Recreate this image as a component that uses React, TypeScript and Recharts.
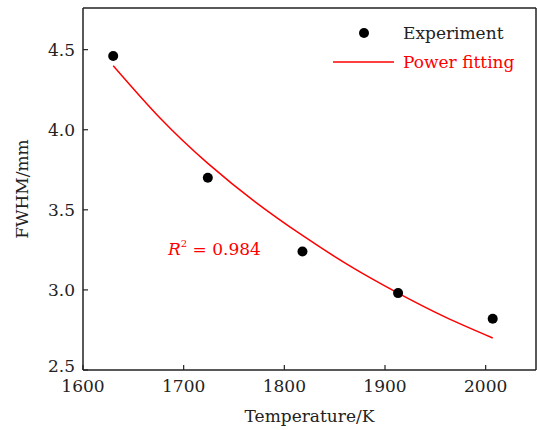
import React from "react"
import { ComposedChart, Scatter, Line, XAxis, YAxis, ReferenceLine } from "recharts"

// measured points
const temperature = [1630, 1724, 1818, 1913, 2007]
const fwhm = [4.46, 3.7, 3.24, 2.98, 2.82]

// power fitting curve
const fitTemperature = [1630, 1677, 1724, 1771, 1818, 1865, 1913, 1960, 2007]
const fitFwhm = [4.4, 4.07, 3.79, 3.55, 3.34, 3.15, 2.98, 2.83, 2.7]

const xTicks = [1600, 1700, 1800, 1900, 2000]
const yTicks = [2.5, 3.0, 3.5, 4.0, 4.5]

const expData = temperature.map((t, i) => ({ x: t, y: fwhm[i] }))
const fitData = fitTemperature.map((t, i) => ({ x: t, y: fitFwhm[i] }))

const font = "'DejaVu Serif', serif"
const fs = 17
const ink = "#222"
const red = "#ff0000"

function YTick(props: any) {
  const { x, y, payload, index } = props
  const ax = x + 8
  // lowest label sits just above the 1600 label, nudge it up a little
  const shift = index === 0 ? -4 : 0
  return (
    <g>
      <line x1={ax} x2={ax + 5} y1={y} y2={y} stroke={ink} strokeWidth={1.2} />
      <text x={x} y={y + shift} textAnchor="end" dominantBaseline="central" fontFamily={font} fontSize={fs} fill={ink}>
        {payload.value.toFixed(1)}
      </text>
    </g>
  )
}

function XTick(props: any) {
  const { x, y, payload } = props
  const ay = y - 9
  return (
    <g>
      <line x1={x} x2={x} y1={ay} y2={ay - 5} stroke={ink} strokeWidth={1.2} />
      <text x={x} y={y + 1} dy="0.73em" textAnchor="middle" fontFamily={font} fontSize={fs} fill={ink}>
        {payload.value}
      </text>
    </g>
  )
}

export default function App() {
  return (
    <div style={{ position: "absolute", left: 0, top: 0, width: 537, height: 430, background: "#fff" }}>
      <ComposedChart width={537} height={430} margin={{ top: 8, right: 1, bottom: 0, left: 0 }}>
        <XAxis
          type="number"
          dataKey="x"
          domain={[1600, 2050]}
          ticks={xTicks}
          tick={<XTick />}
          tickSize={0}
          tickMargin={9}
          tickLine={false}
          height={60}
          axisLine={{ stroke: ink, strokeWidth: 1.5 }}
          allowDataOverflow
          label={{ value: "Temperature/K", position: "insideBottom", offset: 8, fontFamily: font, fontSize: fs, fill: ink }}
        />
        <YAxis
          type="number"
          dataKey="y"
          domain={[2.5, 4.76]}
          ticks={yTicks}
          tick={<YTick />}
          tickSize={0}
          tickMargin={8}
          tickLine={false}
          width={83}
          axisLine={{ stroke: ink, strokeWidth: 1.5 }}
          allowDataOverflow
          label={{
            value: "FWHM/mm",
            angle: -90,
            position: "insideLeft",
            offset: 22,
            fontFamily: font,
            fontSize: fs,
            fill: ink,
            style: { textAnchor: "middle" },
          }}
        />
        <ReferenceLine y={4.76} stroke={ink} strokeWidth={1.5} />
        <ReferenceLine x={2050} stroke={ink} strokeWidth={1.5} />
        <Line
          data={fitData}
          dataKey="y"
          type="natural"
          stroke={red}
          strokeWidth={1.5}
          dot={false}
          activeDot={false}
          isAnimationActive={false}
        />
        <Scatter data={expData} dataKey="y" fill="#000" shape={(p: any) => <circle cx={p.cx} cy={p.cy} r={5} fill="#000" />} isAnimationActive={false} />
      </ComposedChart>

      {/* legend and fit annotation */}
      <svg style={{ position: "absolute", left: 0, top: 0 }} width={537} height={430} pointerEvents="none">
        <circle cx={364} cy={33} r={5} fill="#000" />
        <line x1={333} x2={394} y1={62} y2={62} stroke={red} strokeWidth={1.5} />
        <text x={403} y={33} dominantBaseline="central" fontFamily={font} fontSize={fs} fill={ink}>
          Experiment
        </text>
        <text x={403} y={62} dominantBaseline="central" fontFamily={font} fontSize={fs} fill={red}>
          Power fitting
        </text>
        <text x={168} y={249} dominantBaseline="central" fontFamily={font} fontSize={fs} fill={red}>
          <tspan fontStyle="italic">R</tspan>
          <tspan fontSize={10} dy={-6}>2</tspan>
          <tspan dy={6}> = 0.984</tspan>
        </text>
      </svg>
    </div>
  )
}
